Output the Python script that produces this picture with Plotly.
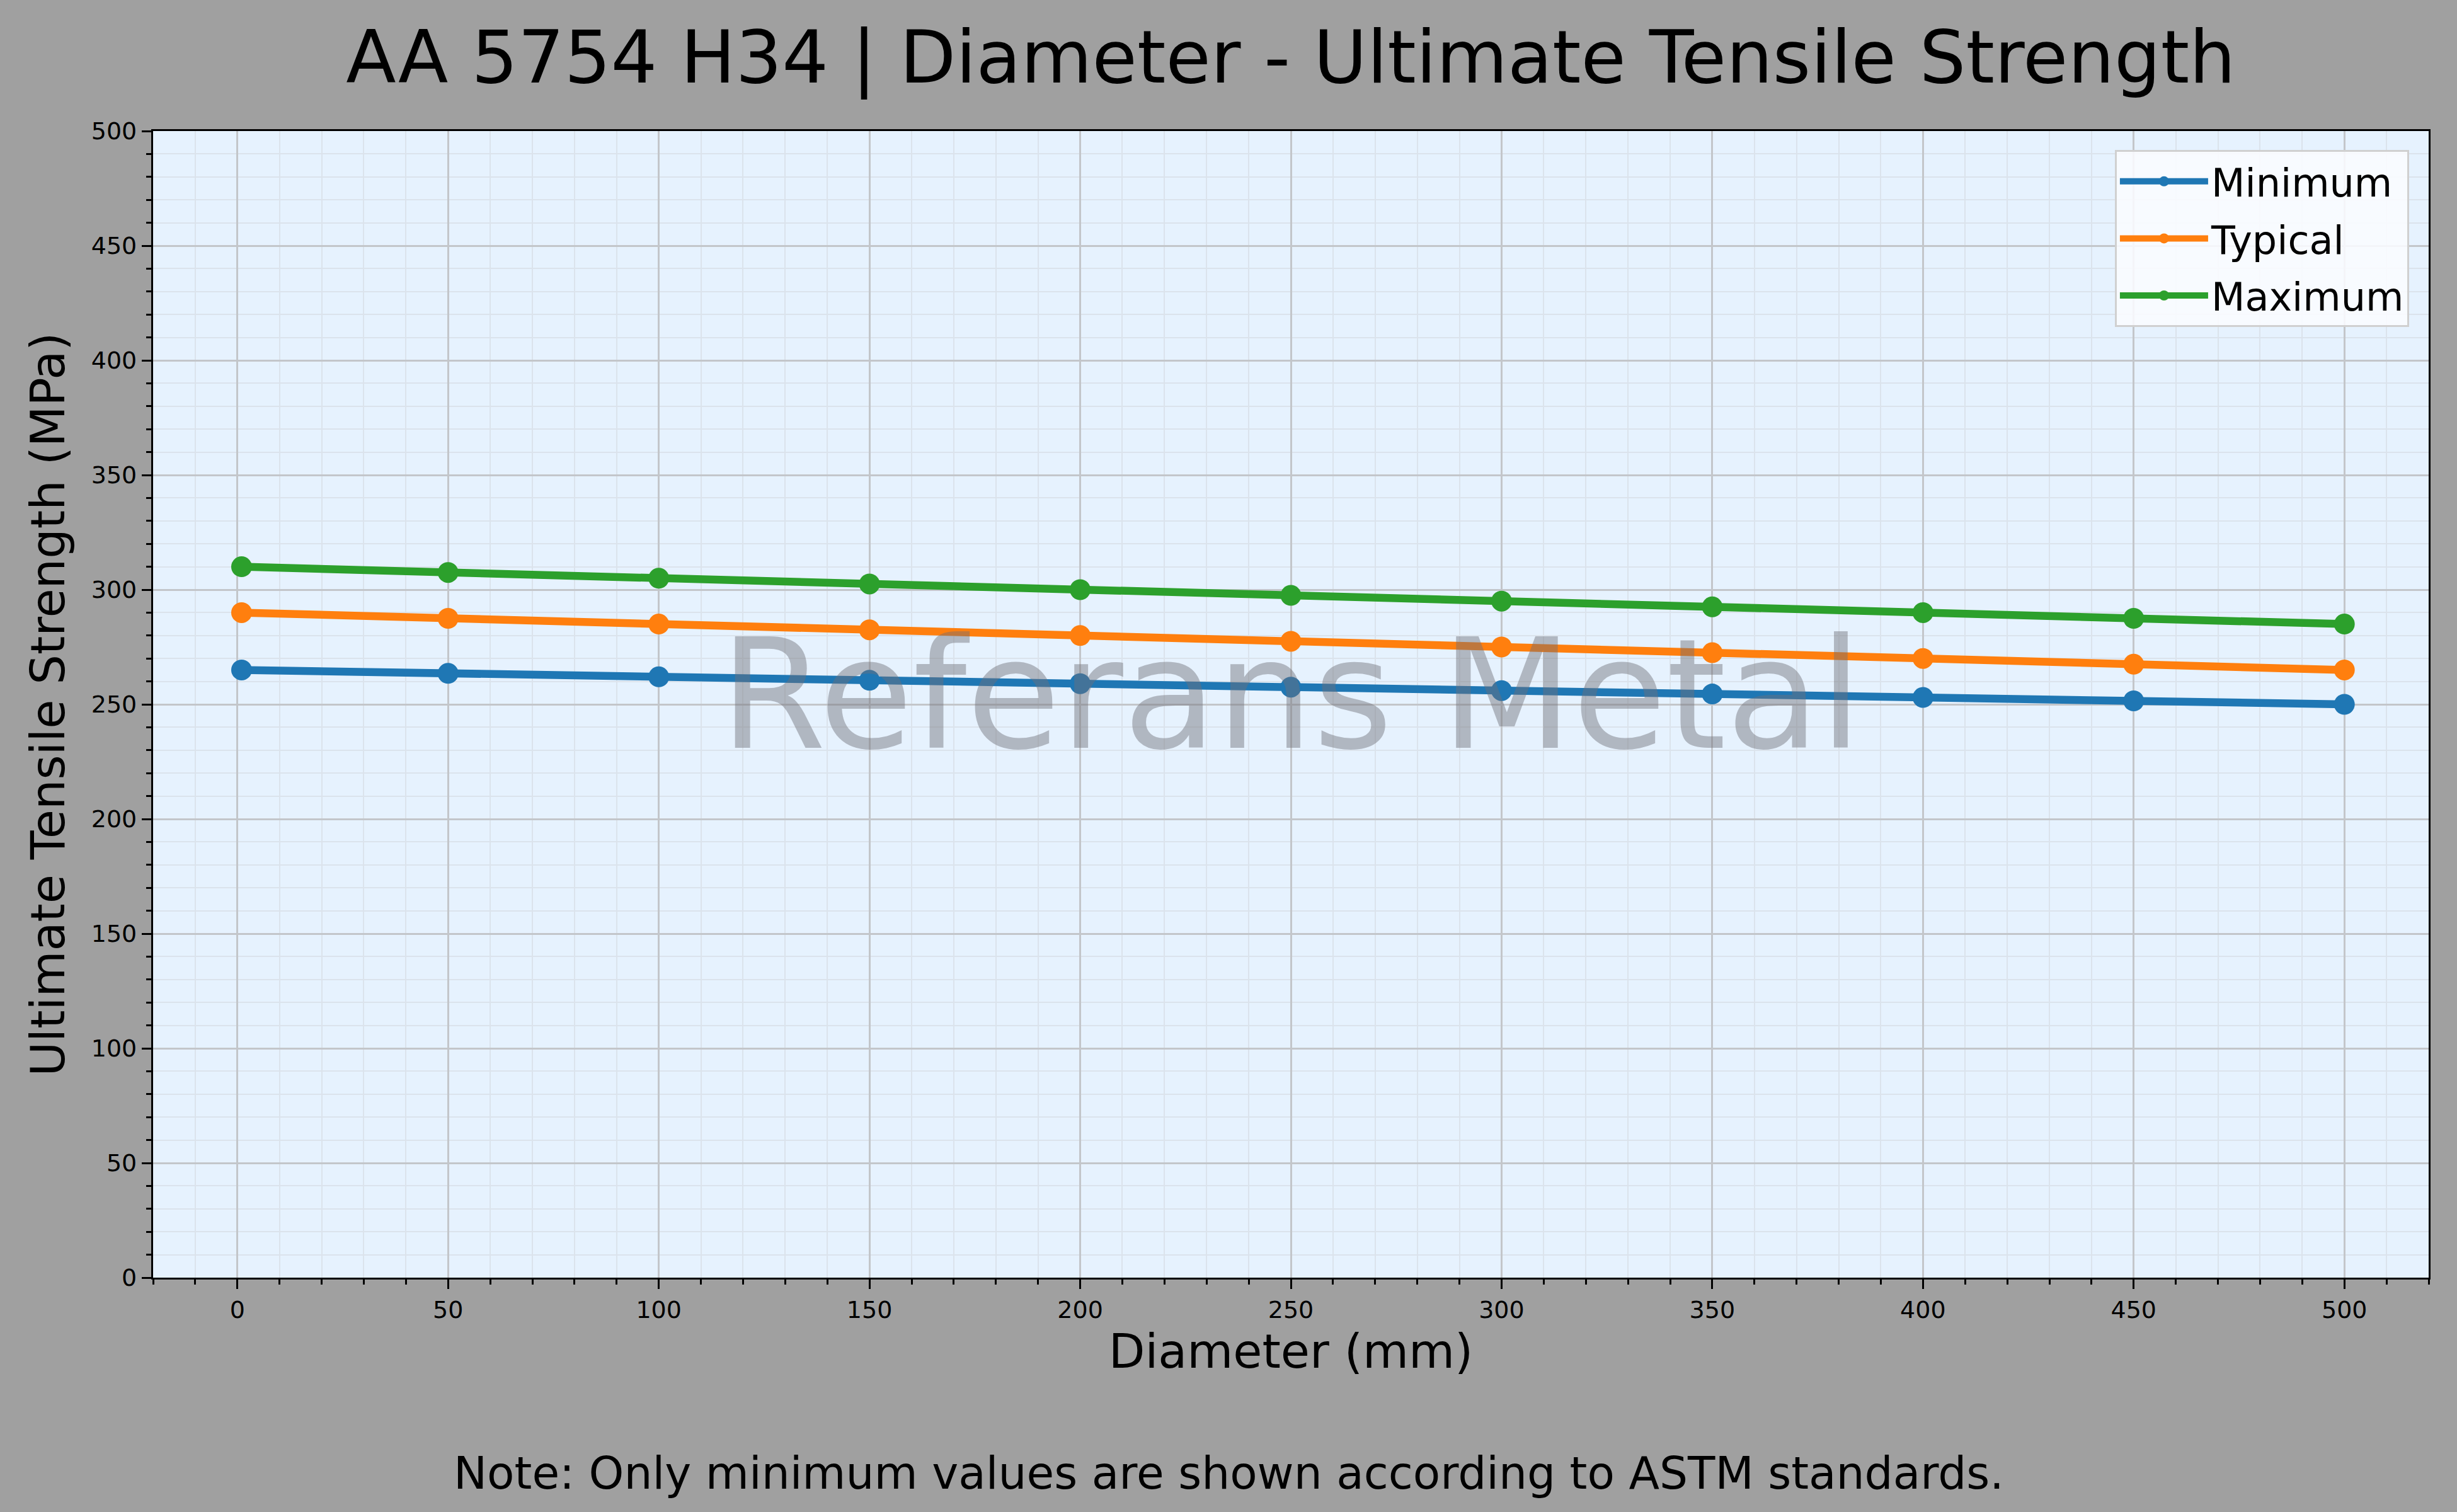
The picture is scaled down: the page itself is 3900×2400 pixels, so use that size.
import plotly.graph_objects as go

# ---- data ----
diameter_mm = [1, 50, 100, 150, 200, 250, 300, 350, 400, 450, 500]
uts_minimum = [265, 263.5, 262, 260.5, 259, 257.5, 256, 254.5, 253, 251.5, 250]
uts_typical = [290, 287.5, 285, 282.5, 280, 277.5, 275, 272.5, 270, 267.5, 265]
uts_maximum = [310, 307.5, 305, 302.5, 300, 297.5, 295, 292.5, 290, 287.5, 285]
series_names = ["Minimum", "Typical", "Maximum"]
series_colors = ["#1f77b4", "#ff7f0e", "#2ca02c"]
x_ticks = [0, 50, 100, 150, 200, 250, 300, 350, 400, 450, 500]
y_ticks = [0, 50, 100, 150, 200, 250, 300, 350, 400, 450, 500]

FONT = "DejaVu Sans"
W, H = 3900, 2400
ML, MR, MT, MB = 243, 45, 208, 372

fig = go.Figure()
for name, vals, col in zip(series_names, [uts_minimum, uts_typical, uts_maximum], series_colors):
    fig.add_trace(go.Scatter(
        x=diameter_mm, y=vals, name=name, legendgroup=name, mode="lines+markers",
        line=dict(color=col, width=12.5),
        marker=dict(color=col, size=33),
    ))

axis_common = dict(
    showline=True, linecolor="black", linewidth=3.3, mirror=True,
    ticks="outside", ticklen=15, tickwidth=3.3, tickcolor="black",
    tickfont=dict(family=FONT, size=38, color="black"),
    showgrid=True, gridcolor="#c3c6ca", gridwidth=2.7,
    zeroline=False,
    minor=dict(dtick=10, showgrid=True, gridcolor="#dbe3ec", gridwidth=2,
               ticks="outside", ticklen=8, tickwidth=2.5, tickcolor="black"),
)

fig.update_layout(
    width=W, height=H,
    margin=dict(l=ML, r=MR, t=MT, b=MB, pad=0),
    paper_bgcolor="#a0a0a0",
    plot_bgcolor="#e6f2fe",
    font=dict(family=FONT, color="black"),
    title=dict(
        text="AA 5754 H34 | Diameter - Ultimate Tensile Strength",
        x=0.5, xref="paper", xanchor="center",
        y=1 - 90 / H, yref="container", yanchor="middle",
        font=dict(family=FONT, size=116, color="black"),
    ),
    xaxis=dict(
        range=[-20, 520], tickvals=x_ticks,
        title=dict(text="Diameter (mm)", font=dict(family=FONT, size=75, color="black"), standoff=18),
        **axis_common,
    ),
    yaxis=dict(
        range=[0, 500], tickvals=y_ticks,
        title=dict(text="Ultimate Tensile Strength (MPa)", font=dict(family=FONT, size=75, color="black"), standoff=18),
        **axis_common,
    ),
    legend=dict(
        x=0.9914, y=0.9835, xanchor="right", yanchor="top",
        bgcolor="rgba(250,252,255,0.88)", bordercolor="#d0d0d0", borderwidth=3,
        font=dict(family=FONT, size=62, color="black"),
        itemwidth=140, tracegroupgap=7,
    ),
    showlegend=True,
)

fig.add_annotation(
    text="Referans Metal", xref="paper", yref="paper", x=0.5, y=0.508,
    xanchor="center", yanchor="middle", showarrow=False,
    font=dict(family=FONT, size=242, color="rgba(110,110,120,0.45)"),
)
fig.add_annotation(
    text="Note: Only minimum values are shown according to ASTM standards.",
    xref="paper", yref="paper", x=(1950 - ML) / (W - ML - MR), y=-(2338 - (H - MB)) / (H - MT - MB),
    xanchor="center", yanchor="middle", showarrow=False,
    font=dict(family=FONT, size=71, color="black"),
)

fig.write_html(
    "out.html",
    config={"displayModeBar": False},
    post_script="document.body.style.margin='0';document.body.style.background='#a0a0a0';",
)
